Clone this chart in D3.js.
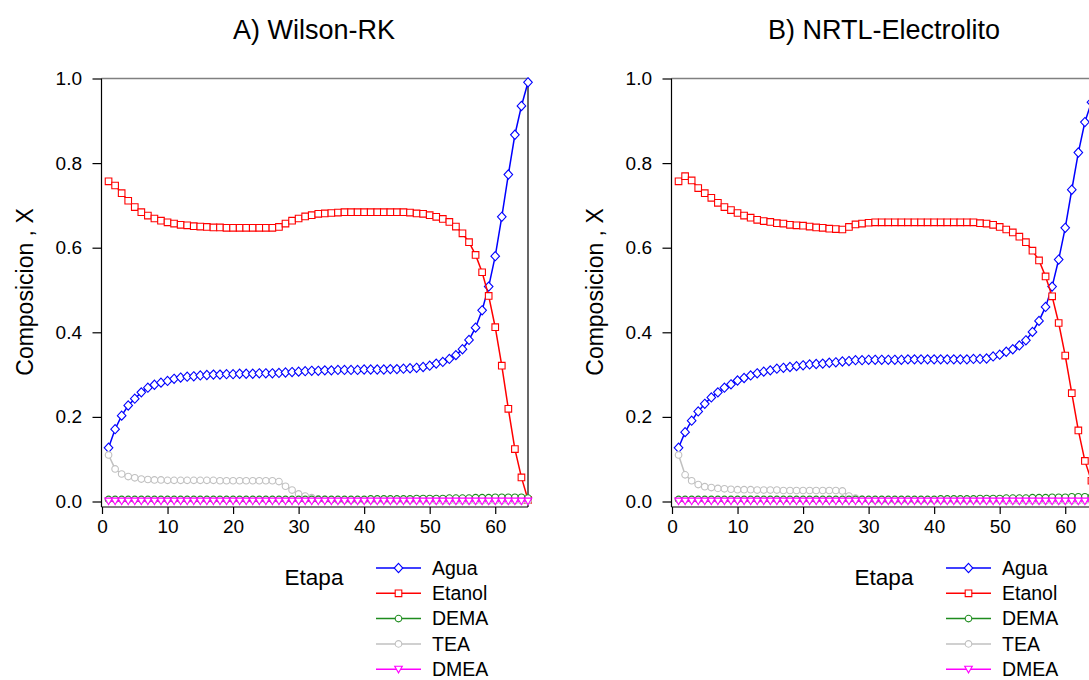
<!DOCTYPE html>
<html>
<head>
<meta charset="utf-8">
<script src="https://cdn.jsdelivr.net/npm/d3@7"></script>
<style>
html,body{margin:0;padding:0;background:#fff;overflow:hidden;}
svg{display:block;}
text{font-family:"Liberation Sans",Arial,sans-serif;fill:#000;}
</style>
</head>
<body>
<script>
// ---------- DATA ----------
const stages = [1,2,3,4,5,6,7,8,9,10,11,12,13,14,15,16,17,18,19,20,21,22,23,24,25,26,27,28,29,30,31,32,33,34,35,36,37,38,39,40,41,42,43,44,45,46,47,48,49,50,51,52,53,54,55,56,57,58,59,60,61,62,63,64,65];
const xTicks = [0,10,20,30,40,50,60];
const yTicks = [0.0,0.2,0.4,0.6,0.8,1.0];
const seriesNames = ["Agua","Etanol","DEMA","TEA","DMEA"];
const panelTitles = ["A) Wilson-RK","B) NRTL-Electrolito"];

// Panel A: Wilson-RK
const wilsonAgua = [0.127,0.171,0.203,0.227,0.243,0.258,0.269,0.276,0.281,0.285,0.290,0.293,0.295,0.296,0.298,0.299,0.300,0.300,0.301,0.301,0.302,0.302,0.302,0.303,0.303,0.303,0.304,0.305,0.306,0.307,0.308,0.309,0.309,0.310,0.310,0.311,0.311,0.311,0.311,0.312,0.312,0.312,0.312,0.313,0.313,0.314,0.315,0.316,0.318,0.321,0.326,0.330,0.337,0.346,0.360,0.382,0.411,0.452,0.508,0.580,0.673,0.773,0.867,0.935,0.991];
const wilsonEtanol = [0.757,0.747,0.729,0.711,0.696,0.684,0.676,0.669,0.664,0.660,0.657,0.654,0.653,0.651,0.650,0.649,0.648,0.648,0.647,0.647,0.647,0.647,0.647,0.647,0.647,0.647,0.649,0.657,0.664,0.669,0.674,0.677,0.680,0.681,0.682,0.683,0.684,0.684,0.684,0.684,0.684,0.684,0.684,0.684,0.684,0.684,0.683,0.681,0.680,0.677,0.673,0.668,0.661,0.650,0.634,0.613,0.583,0.542,0.486,0.412,0.321,0.219,0.124,0.057,0.004];
const wilsonDEMA = [0.005,0.005,0.005,0.005,0.005,0.005,0.005,0.005,0.005,0.005,0.005,0.005,0.005,0.005,0.005,0.005,0.005,0.005,0.005,0.005,0.005,0.005,0.005,0.005,0.005,0.005,0.005,0.005,0.005,0.005,0.005,0.005,0.005,0.005,0.005,0.005,0.005,0.005,0.005,0.005,0.006,0.006,0.006,0.006,0.006,0.006,0.006,0.007,0.007,0.007,0.007,0.007,0.008,0.008,0.008,0.008,0.009,0.009,0.009,0.010,0.010,0.010,0.010,0.010,0.008];
const wilsonTEA = [0.110,0.077,0.065,0.059,0.056,0.053,0.052,0.051,0.051,0.050,0.050,0.050,0.050,0.050,0.050,0.050,0.050,0.049,0.049,0.049,0.049,0.049,0.049,0.049,0.049,0.049,0.047,0.036,0.027,0.018,0.013,0.009,0.006,0.005,0.004,0.003,0.003,0.003,0.003,0.003,0.003,0.003,0.003,0.003,0.003,0.003,0.003,0.003,0.003,0.003,0.002,0.002,0.002,0.002,0.002,0.002,0.002,0.002,0.002,0.002,0.002,0.002,0.002,0.002,0.002];
const wilsonDMEA = [0.001,0.001,0.001,0.001,0.001,0.001,0.001,0.001,0.001,0.001,0.001,0.001,0.001,0.001,0.001,0.001,0.001,0.001,0.001,0.001,0.001,0.001,0.001,0.001,0.001,0.001,0.001,0.001,0.001,0.001,0.001,0.001,0.001,0.001,0.001,0.001,0.001,0.001,0.001,0.001,0.001,0.001,0.001,0.001,0.001,0.001,0.001,0.001,0.001,0.001,0.001,0.001,0.001,0.001,0.001,0.001,0.001,0.001,0.001,0.001,0.001,0.001,0.001,0.001,0.001];

// Panel B: NRTL-Electrolito
const nrtlAgua = [0.127,0.164,0.191,0.213,0.231,0.246,0.258,0.269,0.277,0.286,0.292,0.298,0.303,0.307,0.310,0.314,0.316,0.318,0.320,0.322,0.324,0.325,0.326,0.328,0.329,0.331,0.332,0.334,0.334,0.335,0.335,0.335,0.335,0.335,0.335,0.336,0.336,0.336,0.336,0.336,0.336,0.336,0.336,0.336,0.336,0.337,0.337,0.338,0.343,0.347,0.354,0.360,0.369,0.381,0.401,0.427,0.460,0.508,0.572,0.647,0.737,0.825,0.897,0.944,0.985];
const nrtlEtanol = [0.757,0.769,0.759,0.741,0.729,0.718,0.706,0.696,0.689,0.682,0.676,0.671,0.666,0.663,0.661,0.658,0.657,0.654,0.653,0.652,0.650,0.648,0.647,0.645,0.644,0.643,0.649,0.655,0.657,0.659,0.660,0.660,0.660,0.660,0.660,0.660,0.660,0.660,0.660,0.660,0.660,0.660,0.660,0.660,0.660,0.660,0.658,0.657,0.654,0.649,0.643,0.636,0.626,0.613,0.593,0.570,0.532,0.485,0.422,0.345,0.256,0.168,0.096,0.049,0.005];
const nrtlDEMA = [0.005,0.005,0.005,0.005,0.005,0.005,0.005,0.005,0.005,0.005,0.005,0.005,0.005,0.005,0.005,0.005,0.005,0.005,0.005,0.005,0.005,0.005,0.005,0.005,0.005,0.005,0.005,0.005,0.005,0.005,0.005,0.005,0.005,0.005,0.005,0.005,0.005,0.005,0.005,0.005,0.006,0.006,0.006,0.006,0.006,0.006,0.007,0.007,0.007,0.007,0.008,0.008,0.008,0.008,0.009,0.009,0.009,0.010,0.010,0.010,0.011,0.011,0.011,0.011,0.009];
const nrtlTEA = [0.110,0.063,0.049,0.040,0.035,0.033,0.031,0.030,0.029,0.028,0.028,0.028,0.027,0.027,0.027,0.027,0.026,0.026,0.026,0.026,0.026,0.026,0.026,0.026,0.026,0.025,0.013,0.008,0.005,0.004,0.003,0.003,0.003,0.003,0.003,0.003,0.003,0.003,0.003,0.003,0.003,0.003,0.003,0.003,0.003,0.003,0.003,0.003,0.003,0.003,0.002,0.002,0.002,0.002,0.002,0.002,0.002,0.002,0.002,0.002,0.002,0.002,0.002,0.002,0.002];
const nrtlDMEA = [0.001,0.001,0.001,0.001,0.001,0.001,0.001,0.001,0.001,0.001,0.001,0.001,0.001,0.001,0.001,0.001,0.001,0.001,0.001,0.001,0.001,0.001,0.001,0.001,0.001,0.001,0.001,0.001,0.001,0.001,0.001,0.001,0.001,0.001,0.001,0.001,0.001,0.001,0.001,0.001,0.001,0.001,0.001,0.001,0.001,0.001,0.001,0.001,0.001,0.001,0.001,0.001,0.001,0.001,0.001,0.001,0.001,0.001,0.001,0.001,0.001,0.001,0.001,0.001,0.001];

// ---------- STYLE ----------
const styles = {
  Agua:   {color:"#0000ff", marker:"diamond"},
  Etanol: {color:"#ff0000", marker:"square"},
  DEMA:   {color:"#1e8c1e", marker:"circle"},
  TEA:    {color:"#c0c0c0", marker:"circle"},
  DMEA:   {color:"#ff00ff", marker:"triangle"}
};
const drawOrder = ["Agua","Etanol","TEA","DEMA","DMEA"];

const W = 1089, H = 680;
const svg = d3.select("body").append("svg").attr("width", W).attr("height", H);

function markerPath(type){
  if(type==="diamond"){ const a=4.3,b=4.6; return `M0,${-b}L${a},0L0,${b}L${-a},0Z`; }
  if(type==="square"){ const s=3.3; return `M${-s},${-s}H${s}V${s}H${-s}Z`; }
  if(type==="circle"){ const r=3.3; return `M${r},0A${r},${r} 0 1,1 ${-r},0A${r},${r} 0 1,1 ${r},0Z`; }
  if(type==="triangle"){ const a=3.8; return `M${-a},-3L${a},-3L0,3.6Z`; }
}

function drawPanel(offsetX, title, data){
  const g = svg.append("g").attr("transform", `translate(${offsetX},0)`);
  const x = d3.scaleLinear().domain([0,65]).range([102,528]);
  const y = d3.scaleLinear().domain([0,1]).range([501.5,78.5]);
  const axisY = 507;

  // frame: top grey, right black
  g.append("line").attr("x1",101.5).attr("x2",528).attr("y1",78.5).attr("y2",78.5)
    .attr("stroke","#808080").attr("stroke-width",1.6);
  g.append("line").attr("x1",528).attr("x2",528).attr("y1",78.5).attr("y2",axisY)
    .attr("stroke","#000").attr("stroke-width",1.2);

  // x axis
  const xAxis = d3.axisBottom(x).tickValues(xTicks).tickFormat(d3.format("d")).tickSizeInner(7).tickSizeOuter(0).tickPadding(6);
  const gx = g.append("g").attr("transform",`translate(0,${axisY})`).call(xAxis);
  gx.select(".domain").attr("stroke","#000").attr("stroke-width",1.2).attr("d",`M101.5,0H528`);
  gx.selectAll(".tick line").attr("stroke","#000").attr("stroke-width",1.2);
  gx.selectAll(".tick text").attr("font-size",19).attr("font-family","Liberation Sans, Arial, sans-serif").attr("fill","#000");

  // y axis
  const yAxis = d3.axisLeft(y).tickValues(yTicks).tickFormat(d3.format(".1f")).tickSizeInner(9).tickSizeOuter(0).tickPadding(10.5);
  const gy = g.append("g").attr("transform",`translate(101.5,0)`).call(yAxis);
  gy.select(".domain").attr("stroke","#000").attr("stroke-width",1.2).attr("d",`M0,78.5V${axisY}`);
  gy.selectAll(".tick line").attr("stroke","#000").attr("stroke-width",1.2);
  gy.selectAll(".tick text").attr("font-size",19).attr("font-family","Liberation Sans, Arial, sans-serif").attr("fill","#000");

  // title
  g.append("text").attr("x",314).attr("y",39).attr("text-anchor","middle").attr("font-size",27).text(title);
  // y label
  g.append("text").attr("transform","translate(33,292) rotate(-90)").attr("text-anchor","middle").attr("font-size",23).text("Composicion , X");
  // x label
  g.append("text").attr("x",314).attr("y",585).attr("text-anchor","middle").attr("font-size",22.5).text("Etapa");

  // series
  const line = d3.line().x((d,i)=>x(stages[i])).y(d=>y(d));
  drawOrder.forEach(name=>{
    const st = styles[name];
    const vals = data[name];
    g.append("path").datum(vals).attr("d",line).attr("fill","none")
      .attr("stroke",st.color).attr("stroke-width",1.5);
    g.selectAll(null).data(vals).enter().append("path")
      .attr("transform",(d,i)=>`translate(${x(stages[i])},${y(d)})`)
      .attr("d",markerPath(st.marker)).attr("fill","#fff")
      .attr("stroke",st.color).attr("stroke-width",1.1);
  });

  // legend
  const lg = g.append("g");
  seriesNames.forEach((name,i)=>{
    const st = styles[name];
    const ry = 568 + i*25.3;
    lg.append("line").attr("x1",376).attr("x2",421).attr("y1",ry).attr("y2",ry)
      .attr("stroke",st.color).attr("stroke-width",1.5);
    lg.append("path").attr("transform",`translate(398.5,${ry})`).attr("d",markerPath(st.marker))
      .attr("fill","#fff").attr("stroke",st.color).attr("stroke-width",1.1);
    lg.append("text").attr("x",432).attr("y",ry).attr("dy","0.35em").attr("font-size",19.5).text(name);
  });
}

drawPanel(0, panelTitles[0], {Agua:wilsonAgua, Etanol:wilsonEtanol, DEMA:wilsonDEMA, TEA:wilsonTEA, DMEA:wilsonDMEA});
drawPanel(570, panelTitles[1], {Agua:nrtlAgua, Etanol:nrtlEtanol, DEMA:nrtlDEMA, TEA:nrtlTEA, DMEA:nrtlDMEA});
</script>
</body>
</html>
